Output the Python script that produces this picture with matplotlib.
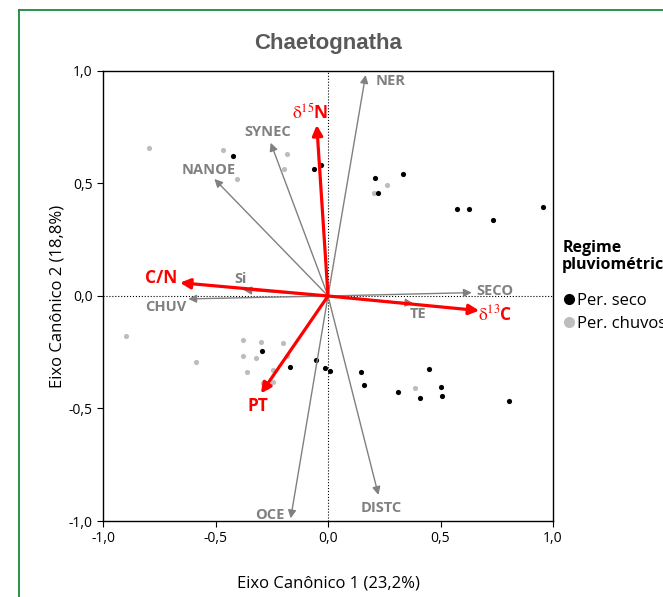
import matplotlib
matplotlib.use('Agg')
import matplotlib.pyplot as plt
from matplotlib.lines import Line2D

plt.rcParams['font.family'] = ['Open Sans', 'DejaVu Sans']
plt.rcParams['mathtext.fontset'] = 'stix'

# pontos das amostras (eixo canonico 1, eixo canonico 2)
seco_x = [-0.421, -0.061, -0.030, 0.207, 0.224, 0.335, 0.573, 0.625, 0.735, 0.956,
          -0.295, -0.167, -0.053, -0.013, 0.010, 0.145, 0.159, 0.313, 0.407, 0.450,
          0.502, 0.508, 0.806]
seco_y = [0.624, 0.564, 0.584, 0.523, 0.459, 0.544, 0.387, 0.387, 0.339, 0.394,
          -0.243, -0.317, -0.283, -0.321, -0.332, -0.339, -0.397, -0.428, -0.452, -0.323,
          -0.403, -0.444, -0.467]
chuv_x = [-0.794, -0.465, -0.403, -0.181, -0.196, 0.261, 0.204,
          -0.899, -0.585, -0.376, -0.298, -0.200, -0.376, -0.320, -0.361, -0.243,
          -0.181, -0.289, -0.272, -0.246, 0.385]
chuv_y = [0.659, 0.649, 0.520, 0.632, 0.564, 0.495, 0.459,
          -0.176, -0.292, -0.197, -0.203, -0.209, -0.265, -0.276, -0.338, -0.330,
          -0.268, -0.387, -0.406, -0.382, -0.407]

# variaveis ambientais (cinza)
env_names = ['NER', 'SYNEC', 'NANOE', 'Si', 'CHUV', 'OCE', 'DISTC', 'SECO', 'TE']
env_x = [0.167, -0.255, -0.505, -0.376, -0.621, -0.166, 0.224, 0.639, 0.379]
env_y = [0.982, 0.681, 0.520, 0.027, -0.013, -0.988, -0.884, 0.015, -0.033]
env_lab_x = [0.28, -0.27, -0.53, -0.39, -0.72, -0.26, 0.235, 0.74, 0.40]
env_lab_y = [0.955, 0.73, 0.56, 0.075, -0.05, -0.975, -0.94, 0.02, -0.08]

# variaveis isotopicas (vermelho)
iso_names = [r'$\mathrm{\delta}^{15}$N', 'C/N', r'$\mathrm{\delta}^{13}$C', 'PT']
iso_x = [-0.050, -0.658, 0.672, -0.298]
iso_y = [0.760, 0.059, -0.065, -0.433]
iso_lab_x = [-0.08, -0.74, 0.745, -0.31]
iso_lab_y = [0.815, 0.08, -0.08, -0.49]

ticks = [-1.0, -0.5, 0.0, 0.5, 1.0]
tick_labels = ['-1,0', '-0,5', '0,0', '0,5', '1,0']

fig = plt.figure(figsize=(6.63, 5.97), dpi=100)
ax = fig.add_axes([0.1554, 0.1273, 0.6787, 0.7538])

# moldura verde
fig.add_artist(Line2D([0.029, 1.0], [0.983, 0.983], color='#178a3c', lw=1.3))
fig.add_artist(Line2D([0.029, 0.029], [0.0, 0.983], color='#178a3c', lw=1.3))

ax.axhline(0, color='black', ls=':', lw=0.8, zorder=1)
ax.axvline(0, color='black', ls=':', lw=0.8, zorder=1)

ax.scatter(chuv_x, chuv_y, s=14, color='#bdbdbd', zorder=2, linewidths=0)
ax.scatter(seco_x, seco_y, s=14, color='black', zorder=2, linewidths=0)

for name, x, y, lx, ly in zip(env_names, env_x, env_y, env_lab_x, env_lab_y):
    ax.annotate('', xy=(x, y), xytext=(0, 0),
                arrowprops=dict(arrowstyle='-|>', color='#808080', lw=1.0,
                                mutation_scale=12, shrinkA=0, shrinkB=0), zorder=3)
    ax.text(lx, ly, name, color='#808080', fontsize=10.5, fontweight='bold',
            ha='center', va='center', zorder=5)

for name, x, y, lx, ly in zip(iso_names, iso_x, iso_y, iso_lab_x, iso_lab_y):
    ax.annotate('', xy=(x, y), xytext=(0, 0),
                arrowprops=dict(arrowstyle='-|>', color='red', lw=2.3,
                                mutation_scale=15, shrinkA=0, shrinkB=0), zorder=4)
    ax.text(lx, ly, name, color='red', fontsize=12.5, fontweight='bold',
            ha='center', va='center', zorder=5)

ax.set_xlim(-1, 1)
ax.set_ylim(-1, 1)
ax.set_xticks(ticks)
ax.set_xticklabels(tick_labels)
ax.set_yticks(ticks)
ax.set_yticklabels(tick_labels)
ax.tick_params(labelsize=10, length=4, direction='out')
for sp in ax.spines.values():
    sp.set_linewidth(1.0)

ax.set_title('Chaetognatha', fontsize=16, fontweight='bold', color='#595959',
             family='Liberation Sans', pad=16)
ax.set_xlabel('Eixo Canônico 1 (23,2%)', fontsize=12, labelpad=21)
ax.set_ylabel('Eixo Canônico 2 (18,8%)', fontsize=12, labelpad=2)

# legenda
fig.text(0.848, 0.57, 'Regime\npluviométrico', fontsize=11.5, fontweight='bold',
         ha='left', va='center', linespacing=1.05)
leg_handles = [Line2D([], [], marker='o', ls='', color='black', markersize=7),
               Line2D([], [], marker='o', ls='', color='#bdbdbd', markersize=7)]
fig.legend(leg_handles, ['Per. seco', 'Per. chuvoso'], loc='upper left',
           bbox_to_anchor=(0.838, 0.524), frameon=False, fontsize=12,
           handlelength=0.6, handletextpad=0.2, labelspacing=0.45, borderpad=0)

fig.savefig('out.png', dpi=100)
